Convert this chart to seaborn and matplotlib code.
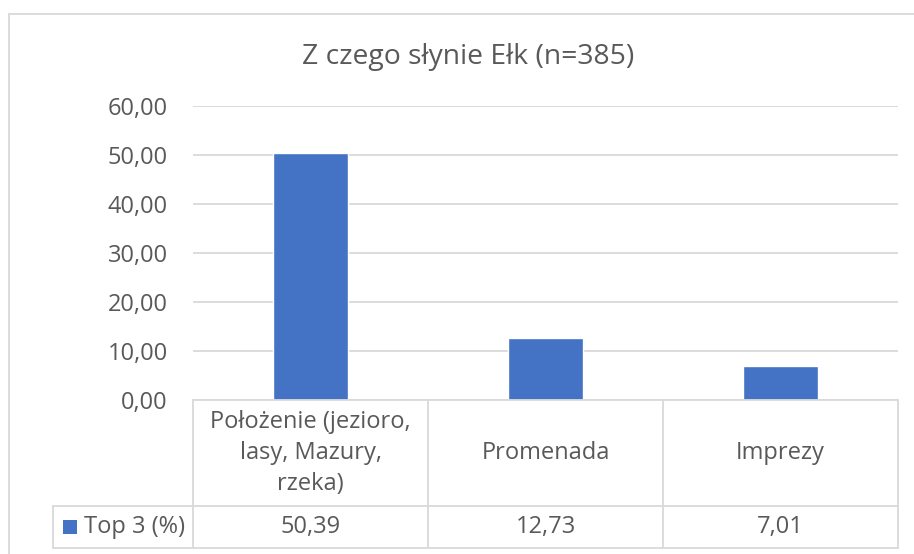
import matplotlib
matplotlib.use("Agg")
import matplotlib.pyplot as plt
import seaborn as sns
from matplotlib.patches import Rectangle
from matplotlib.ticker import FuncFormatter, MultipleLocator

# Chart data
categories = ["Położenie (jezioro,\nlasy, Mazury,\nrzeka)", "Promenada", "Imprezy"]
values = [50.39, 12.73, 7.01]
value_labels = ["50,39", "12,73", "7,01"]
series_name = "Top 3 (%)"
title = "Z czego słynie Ełk (n=385)"

W, H = 914, 554
bar_color = "#4472C4"
line_color = "#D9D9D9"
text_color = "#595959"
fs = 17

sns.set_theme(style="white")
plt.rcParams["font.family"] = ["Open Sans", "DejaVu Sans"]

fig = plt.figure(figsize=(W / 100, H / 100), dpi=100)


def fx(x):
    return x / W


def fy(y):
    return 1 - y / H


# plot area in pixel coords
left, right, top, bottom = 193, 898, 106, 400
ax = fig.add_axes([fx(left), fy(bottom), fx(right - left), (bottom - top) / H])

sns.barplot(x=list(range(len(values))), y=values, color=bar_color,
            width=0.315, saturation=1, ax=ax, zorder=3)
ax.set_xlim(-0.5, len(values) - 0.5)
ax.set_ylim(0, 60)
ax.yaxis.set_major_locator(MultipleLocator(10))
ax.yaxis.set_major_formatter(FuncFormatter(lambda v, p: f"{v:.2f}".replace(".", ",")))
ax.grid(axis="y", color=line_color, linewidth=1.3, zorder=0)
ax.set_xticks([])
ax.set_xlabel("")
ax.set_ylabel("")
ax.tick_params(axis="y", length=0, pad=18, labelsize=fs, labelcolor=text_color)
for s in ax.spines.values():
    s.set_visible(False)

# outer chart border
fig.patches.append(Rectangle((fx(8.5), fy(560)), fx(W + 20), (560 - 13.5) / H,
                             transform=fig.transFigure, fill=False,
                             edgecolor=line_color, linewidth=1.3))

# title
fig.text(fx(468), fy(57), title, ha="center", va="center",
         fontsize=20.3, color=text_color)

# data table
col_edges = [193, 428, 663, 898]
row1_bottom, row2_bottom = 506, 548
legend_left = 53
lw = 1.3


def hline(x0, x1, y):
    fig.add_artist(plt.Line2D([fx(x0), fx(x1)], [fy(y), fy(y)], color=line_color,
                              linewidth=lw, transform=fig.transFigure))


def vline(x, y0, y1):
    fig.add_artist(plt.Line2D([fx(x), fx(x)], [fy(y0), fy(y1)], color=line_color,
                              linewidth=lw, transform=fig.transFigure))


hline(col_edges[0], col_edges[-1], bottom)
hline(legend_left, col_edges[-1], row1_bottom)
hline(legend_left, col_edges[-1], row2_bottom)
for x in col_edges:
    vline(x, bottom, row2_bottom)
vline(legend_left, row1_bottom, row2_bottom)

for i, (cat, lab) in enumerate(zip(categories, value_labels)):
    cx = (col_edges[i] + col_edges[i + 1]) / 2
    fig.text(fx(cx), fy(453), cat, ha="center", va="center", fontsize=fs,
             color=text_color, linespacing=1.4)
    fig.text(fx(cx), fy(527), lab, ha="center", va="center", fontsize=fs,
             color=text_color)

# legend key in the table
fig.patches.append(Rectangle((fx(63), fy(534)), fx(14), 14 / H,
                             transform=fig.transFigure, facecolor=bar_color,
                             edgecolor="none"))
fig.text(fx(84), fy(527), series_name, ha="left", va="center", fontsize=fs,
         color=text_color)

fig.savefig("out.png", dpi=100)
